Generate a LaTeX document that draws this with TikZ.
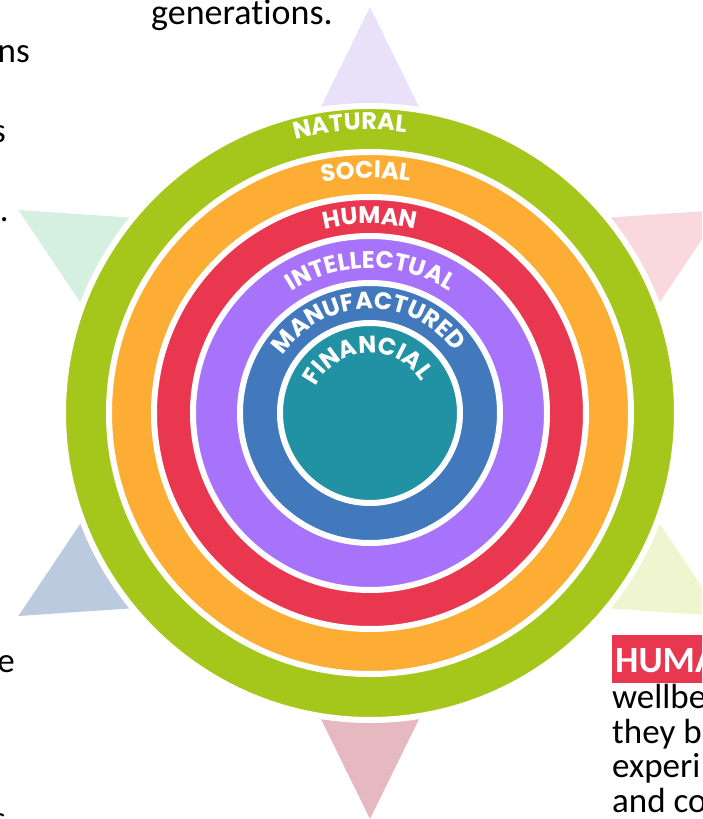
\documentclass[tikz,border=0pt]{standalone}
\usepackage{fontspec}
\setmainfont{Carlito}[Ligatures=NoCommon]
\newfontfamily\ringfont{Poppins}
\usepackage{tikz}
\usetikzlibrary{decorations.text}

\definecolor{ringgreen}{HTML}{A5C71B}
\definecolor{ringorange}{HTML}{FDAD34}
\definecolor{ringred}{HTML}{E8374F}
\definecolor{ringpurple}{HTML}{A873FB}
\definecolor{ringblue}{HTML}{4279BD}
\definecolor{ringteal}{HTML}{2191A4}

\begin{document}
\begin{tikzpicture}[
  x=1pt, y=1pt,
  ring/.style={draw=white, line width=6pt},
  ringlabel/.style={decorate, decoration={text along path, text align=center,
    text color=white, text={|\ringfont\bfseries\fontsize{24}{24}\selectfont|#1}}},
  bodytext/.style={inner sep=0pt, font=\fontsize{35}{35}\selectfont},
]

\useasboundingbox (-370,-406) rectangle (332,413);
\clip (-370,-406) rectangle (332,413);

% --- Rays ---
\foreach \ang/\col in {90/E9E1FA, 30/F9D8DE, -30/EFF6CF, -90/E6B8C0, -150/BCCAE0, 150/D5EFE0} {
  \definecolor{raycol}{HTML}{\col}
  \fill[raycol, rotate=\ang] (406,0) -- (300,52) -- (300,-52) -- cycle;
}

% --- Capital rings ---
\foreach \r/\col in {307/ringgreen, 261/ringorange, 216/ringred, 177/ringpurple, 130/ringblue, 90/ringteal}
  \draw[ring, fill=\col] (0,0) circle (\r);

% --- Ring names ---
\path[ringlabel=NATURAL] (174:283) arc[start angle=174, end angle=14, radius=283];
\path[ringlabel=SOCIAL] (171:235) arc[start angle=171, end angle=11, radius=235];
\path[ringlabel=HUMAN] (170:189) arc[start angle=170, end angle=10, radius=189];
\path[ringlabel=INTELLECTUAL] (170:145) arc[start angle=170, end angle=10, radius=145];
\path[ringlabel=MANUFACTURED] (171:104) arc[start angle=171, end angle=11, radius=104];
\path[ringlabel=FINANCIAL] (173:60) arc[start angle=173, end angle=13, radius=60];

% --- Slide text around the wheel ---
\node[bodytext, font=\fontsize{36}{36}\selectfont, anchor=base west] (gen) at (-219,388) {generations.};
\node[bodytext, anchor=base east] (ns) at (-340,350) {ns};
\node[bodytext, anchor=base east] (s1) at (-364,270) {s};
\node[bodytext, anchor=base east] (dot) at (-361,191) {.};
\node[bodytext, anchor=base east] (e) at (-355,-259) {e};
\node[bodytext, anchor=base east] (s2) at (-364,-417) {s};

\fill[ringred] (242,-222) rectangle (340,-270);
\node[bodytext, font=\fontsize{37}{37}\selectfont\bfseries, text=white, anchor=base west] (human) at (245,-259) {HUMAN};
\node[bodytext, anchor=base west] (l1) at (242,-295) {wellbe};
\node[bodytext, anchor=base west] (l2) at (242,-330) {they b};
\node[bodytext, anchor=base west] (l3) at (242,-364) {experi};
\node[bodytext, anchor=base west] (l4) at (242,-399) {and co};

\end{tikzpicture}
\end{document}
